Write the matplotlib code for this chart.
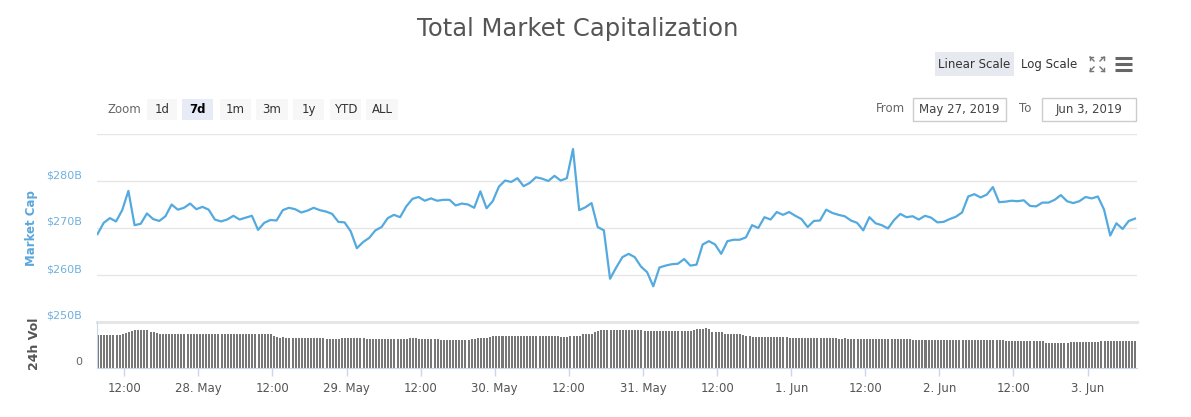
import matplotlib
matplotlib.use("Agg")
import matplotlib.pyplot as plt
import matplotlib.dates as mdates
from matplotlib.patches import Rectangle
from matplotlib.transforms import offset_copy
import pandas as pd

W, H = 1191, 417

# hourly market cap, $B
cap_start = "2019-05-27 07:40"
market_cap = [
    268.7, 271.1, 272.1, 271.4, 273.8, 277.9, 270.6, 270.9, 273.1, 271.9,
    271.5, 272.5, 275.0, 273.9, 274.3, 275.2, 274.0, 274.5, 273.9, 271.8,
    271.4, 271.8, 272.6, 271.8, 272.2, 272.6, 269.6, 271.1, 271.7, 271.6,
    273.8, 274.3, 274.0, 273.3, 273.7, 274.3, 273.8, 273.5, 273.0, 271.3,
    271.2, 269.3, 265.7, 267.0, 267.9, 269.5, 270.2, 272.1, 272.8, 272.3,
    274.6, 276.2, 276.6, 275.8, 276.3, 275.8, 276.0, 276.0, 274.8, 275.2,
    275.0, 274.3, 277.8, 274.2, 275.7, 278.8, 280.1, 279.8, 280.6, 278.9,
    279.6, 280.8, 280.5, 280.0, 281.1, 280.1, 280.6, 286.8, 273.8, 274.4,
    275.3, 270.2, 269.5, 259.2, 261.6, 263.8, 264.5, 263.8, 261.8, 260.6,
    257.6, 261.6, 262.0, 262.3, 262.4, 263.4, 262.0, 262.2, 266.5, 267.2,
    266.5, 264.5, 267.2, 267.5, 267.5, 268.0, 270.6, 270.0, 272.3, 271.8,
    273.4, 272.8, 273.4, 272.6, 271.9, 270.2, 271.5, 271.6, 273.9, 273.2,
    272.8, 272.5, 271.6, 271.1, 269.5, 272.3, 271.0, 270.6, 269.9, 271.7,
    273.0, 272.3, 272.5, 271.8, 272.6, 272.2, 271.2, 271.3, 271.9, 272.4,
    273.3, 276.7, 277.2, 276.5, 277.1, 278.7, 275.5, 275.6, 275.8, 275.7,
    275.9, 274.7, 274.6, 275.4, 275.4, 276.0, 277.0, 275.7, 275.3, 275.7,
    276.6, 276.3, 276.7, 273.9, 268.4, 271.0, 269.8, 271.5, 272.0,
]

# half-hourly 24h volume, $B
vol_start = "2019-05-27 07:45"
volume = [
    71.5, 71.9, 71.9, 72.0, 71.9, 72.0, 72.0, 72.3, 74.0, 76.0,
    78.0, 80.0, 82.5, 83.2, 83.2, 83.0, 82.0, 79.0, 77.5, 76.0,
    75.0, 74.5, 74.0, 74.0, 74.0, 74.3, 74.0, 74.0, 74.0, 74.0,
    74.0, 74.0, 74.3, 74.0, 74.0, 74.0, 74.0, 74.0, 74.0, 74.0,
    74.0, 74.0, 74.3, 74.0, 74.0, 74.0, 74.0, 74.0, 74.0, 74.0,
    74.3, 74.0, 74.0, 74.0, 74.0, 74.0, 74.0, 70.5, 67.0, 66.2,
    66.5, 66.2, 66.2, 66.2, 66.2, 66.2, 66.2, 66.2, 66.2, 66.2,
    66.2, 66.2, 66.0, 65.5, 63.4, 63.4, 63.4, 63.4, 63.0, 65.0,
    65.5, 65.5, 65.5, 65.8, 65.5, 65.5, 65.5, 62.0, 62.0, 62.5,
    62.0, 63.4, 63.4, 63.4, 63.4, 63.4, 63.4, 63.4, 63.4, 63.4,
    63.4, 66.2, 66.2, 66.2, 63.4, 63.4, 63.4, 63.4, 63.0, 63.4,
    62.5, 61.3, 61.3, 61.3, 61.3, 61.3, 61.3, 61.3, 61.3, 61.3,
    61.3, 64.1, 64.1, 64.5, 66.2, 66.2, 66.2, 66.5, 68.5, 69.0,
    69.0, 68.5, 69.0, 69.0, 69.0, 68.5, 69.0, 69.0, 69.0, 68.5,
    69.0, 69.0, 68.5, 69.0, 69.0, 69.0, 68.5, 69.0, 69.0, 68.5,
    67.7, 67.7, 67.7, 70.5, 70.5, 70.5, 70.5, 73.0, 74.0, 74.0,
    75.0, 78.0, 80.0, 82.0, 83.0, 83.0, 83.0, 83.0, 83.0, 83.0,
    83.0, 83.0, 83.0, 83.0, 83.0, 83.0, 83.0, 81.0, 81.0, 80.5,
    81.0, 81.0, 80.0, 81.0, 81.0, 80.5, 81.0, 81.5, 81.0, 81.0,
    81.5, 81.0, 81.5, 82.0, 84.0, 84.5, 85.0, 86.0, 85.0, 79.0,
    78.9, 78.0, 78.0, 75.0, 75.0, 75.0, 75.0, 75.0, 75.0, 72.0,
    70.5, 69.5, 68.4, 68.4, 68.4, 68.4, 68.4, 68.4, 68.4, 68.4,
    68.4, 68.4, 68.4, 68.4, 66.2, 66.2, 66.2, 66.2, 66.2, 66.2,
    66.2, 66.2, 66.2, 66.2, 66.2, 66.2, 66.2, 66.2, 66.2, 64.5,
    63.4, 63.4, 64.5, 63.4, 63.4, 63.4, 62.0, 62.0, 62.0, 62.0,
    62.0, 62.0, 62.0, 62.0, 62.0, 62.0, 62.0, 62.0, 62.0, 62.0,
    62.0, 62.0, 62.0, 62.0, 60.0, 60.0, 60.0, 60.0, 60.0, 60.0,
    60.0, 60.0, 60.0, 60.0, 60.0, 60.6, 60.6, 60.6, 60.6, 60.6,
    60.6, 60.6, 60.6, 60.6, 60.6, 60.6, 60.6, 60.6, 60.6, 61.5,
    60.6, 60.6, 60.6, 60.6, 57.8, 57.8, 57.8, 57.8, 57.8, 57.8,
    57.8, 57.8, 57.8, 57.8, 57.8, 57.8, 57.8, 54.3, 54.3, 54.3,
    54.3, 54.3, 54.3, 54.3, 54.3, 56.4, 56.4, 56.4, 56.4, 56.4,
    56.4, 56.4, 56.4, 56.4, 56.4, 58.5, 58.5, 58.5, 58.5, 58.5,
    58.5, 58.5, 58.5, 58.5, 58.5, 58.5, 58.5,
]

cap_ticks = [250, 260, 270, 280]
cap_grid = [250, 260, 270, 280, 290]
zoom_buttons = ["1d", "7d", "1m", "3m", "1y", "YTD", "ALL"]
zoom_selected = "7d"
date_from = "May 27, 2019"
date_to = "Jun 3, 2019"

cap_times = pd.date_range(cap_start, periods=len(market_cap), freq="h").to_pydatetime()
vol_times = pd.date_range(vol_start, periods=len(volume), freq="30min").to_pydatetime()
x0 = pd.Timestamp("2019-05-27 07:35").to_pydatetime()
x1 = pd.Timestamp("2019-06-03 08:00").to_pydatetime()

LINE = "#54aadf"
LABEL_BLUE = "#6fb0e0"

fig = plt.figure(figsize=(W / 100, H / 100), dpi=100)
fig.patch.set_facecolor("white")

def fx(px):
    return px / W

def fy(py):
    return 1 - py / H

# main panel
ax = fig.add_axes([fx(97), fy(322), 1040 / W, 188 / H])
ax.plot(cap_times, market_cap, color=LINE, lw=1.6, solid_joinstyle="round")
ax.set_ylim(250, 290)
ax.set_xlim(x0, x1)
ax.set_yticks(cap_grid)
ax.grid(axis="y", color="#e6e6e6", lw=1)
ax.set_axisbelow(True)
ax.tick_params(left=False, labelleft=False, bottom=False, labelbottom=False)
for s in ax.spines.values():
    s.set_visible(False)
lab_tr = offset_copy(ax.get_yaxis_transform(), fig=fig, x=-15, y=6, units="dots")
for v in cap_ticks:
    ax.text(0, v, f"${v}B", transform=lab_tr, ha="right", va="center",
            fontsize=8, color=LABEL_BLUE)

# volume panel
axv = fig.add_axes([fx(97), fy(368), 1040 / W, 46 / H])
axv.bar(vol_times, volume, width=19.5 / 1440, color="#777777", lw=0)
axv.set_ylim(0, 100)
axv.set_xlim(x0, x1)
axv.axhline(100, color="#e6e6e6", lw=2.2, clip_on=False)
axv.set_yticks([])
for k in ["top", "right"]:
    axv.spines[k].set_visible(False)
axv.spines["left"].set_color("#ccd6eb")
axv.spines["bottom"].set_color("#ccd6eb")
axv.xaxis.set_major_locator(mdates.HourLocator(byhour=[0, 12]))

def date_fmt(x, pos):
    d = mdates.num2date(x)
    if d.hour == 0:
        return f"{d.day}. {d.strftime('%b')}"
    return d.strftime("%H:%M")

axv.xaxis.set_major_formatter(plt.FuncFormatter(date_fmt))
axv.tick_params(axis="x", direction="out", length=6, width=1, color="#ccd6eb",
                labelsize=8.5, labelcolor="#555555", pad=4)
v_tr = offset_copy(axv.get_yaxis_transform(), fig=fig, x=-15, y=6, units="dots")
axv.text(0, 0, "0", transform=v_tr, ha="right", va="center", fontsize=8, color="#666666")

# UI overlay in pixel coords
ui = fig.add_axes([0, 0, 1, 1])
ui.set_xlim(0, W)
ui.set_ylim(H, 0)
ui.axis("off")

ui.text(578, 29, "Total Market Capitalization", ha="center", va="center",
        fontsize=17.5, color="#555555")

ui.text(31, 228, "Market Cap", rotation=90, ha="center", va="center",
        fontsize=8.5, fontweight="bold", color="#5aa7dc")
ui.text(35, 344, "24h Vol", rotation=90, ha="center", va="center",
        fontsize=9, fontweight="bold", color="#555555")

# scale buttons
ui.add_patch(Rectangle((935, 52), 79, 24, facecolor="#e6e9ef", edgecolor="none"))
ui.text(974.5, 64, "Linear Scale", ha="center", va="center", fontsize=8.5, color="#333333")
ui.text(1049, 64, "Log Scale", ha="center", va="center", fontsize=8.5, color="#333333")

# fullscreen icon
ic = "#777777"
for (ax_, ay_, dx, dy) in [(1090, 57, 1, 1), (1104, 57, -1, 1), (1090, 71, 1, -1), (1104, 71, -1, -1)]:
    ui.plot([ax_, ax_ + 4 * dx], [ay_, ay_ + 4 * dy], color=ic, lw=1)
    ui.plot([ax_, ax_ + 3 * dx], [ay_, ay_], color=ic, lw=1)
    ui.plot([ax_, ax_], [ay_, ay_ + 3 * dy], color=ic, lw=1)
# hamburger menu
for yy in [58, 64, 70]:
    ui.plot([1115, 1132], [yy, yy], color="#666666", lw=2.2, solid_capstyle="butt")

# zoom buttons
ui.text(107, 109, "Zoom", ha="left", va="center", fontsize=8.5, color="#666666")
btn_x = [147, 182, 220, 256, 293, 330, 366]
btn_w = [30, 31, 31, 32, 31, 31, 32]
for lab, bx, bw in zip(zoom_buttons, btn_x, btn_w):
    sel = lab == zoom_selected
    ui.add_patch(Rectangle((bx, 99), bw, 21, facecolor="#e6ebf5" if sel else "#f7f7f7",
                           edgecolor="none"))
    ui.text(bx + bw / 2, 109.5, lab, ha="center", va="center", fontsize=8.5,
            color="#000000" if sel else "#333333", fontweight="bold" if sel else "normal")

# date range inputs
ui.text(876, 108.5, "From", ha="left", va="center", fontsize=8.5, color="#666666")
ui.add_patch(Rectangle((913, 98), 93, 23, facecolor="white", edgecolor="#cccccc", lw=1))
ui.text(959.5, 109.5, date_from, ha="center", va="center", fontsize=8.5, color="#444444")
ui.text(1019, 108.5, "To", ha="left", va="center", fontsize=8.5, color="#666666")
ui.add_patch(Rectangle((1042, 98), 94, 23, facecolor="white", edgecolor="#cccccc", lw=1))
ui.text(1089, 109.5, date_to, ha="center", va="center", fontsize=8.5, color="#444444")

fig.savefig("out.png", dpi=100)
